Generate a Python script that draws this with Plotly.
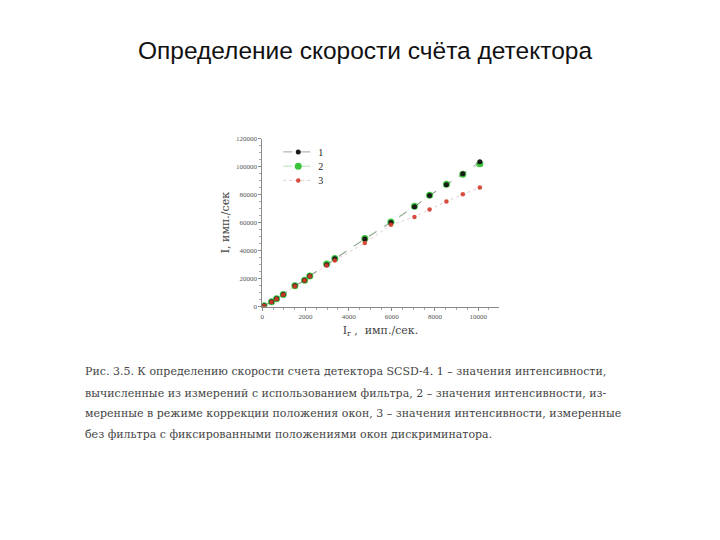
import plotly.graph_objects as go

# Data
x_vals = [80, 430, 660, 970, 1510, 1960, 2200, 2980, 3360, 4750, 5960, 7050, 7750, 8530, 9290, 10080]
series1 = [500, 3500, 5600, 8700, 14800, 18800, 21900, 29900, 34100, 48200, 60000, 71300, 79300, 87100, 94800, 103500]
series2 = [500, 3500, 5600, 8700, 14800, 18800, 21900, 30500, 34300, 48600, 60500, 71600, 79500, 87400, 94600, 102000]
series3 = [400, 3300, 5400, 8500, 14600, 18600, 21600, 29400, 33000, 45400, 58400, 64000, 69400, 75100, 80200, 85000]

x_ticks = [0, 2000, 4000, 6000, 8000, 10000]
y_ticks = [0, 20000, 40000, 60000, 80000, 100000, 120000]

title_text = "Определение скорости счёта детектора"
caption_lines = [
    "Рис. 3.5. К определению скорости счета детектора SCSD-4. 1 – значения интенсивности,",
    "вычисленные из измерений с использованием фильтра, 2 – значения интенсивности, из-",
    "меренные в режиме коррекции положения окон, 3 – значения интенсивности, измеренные",
    "без фильтра с фиксированными положениями окон дискриминатора.",
]

serif = "DejaVu Serif, Liberation Serif, serif"
OFF = 8  # page body margin


def px_x(x):
    return (x - OFF) / 720


def px_y(y):
    return 1 - (y - OFF) / 540


fig = go.Figure()
fig.add_trace(go.Scatter(
    x=x_vals, y=series2, name="2", mode="lines+markers", legend="legend2",
    line=dict(color="rgba(120,200,120,0.7)", width=0.8, dash="dash"),
    marker=dict(color="#3cc43c", size=7)))
fig.add_trace(go.Scatter(
    x=x_vals, y=series1, name="1", mode="lines+markers", legend="legend",
    line=dict(color="rgba(60,60,60,0.6)", width=0.8, dash="dash"),
    marker=dict(color="#1a1a1a", size=5)))
fig.add_trace(go.Scatter(
    x=x_vals, y=series3, name="3", mode="lines+markers", legend="legend3",
    line=dict(color="rgba(200,150,150,0.6)", width=0.8, dash="dot"),
    marker=dict(color="#d43a2a", size=4.5, opacity=0.9)))

axis_common = dict(
    showgrid=False, zeroline=False, showline=True, linecolor="#8a8a8a", linewidth=1,
    ticks="outside", ticklen=3, tickcolor="#8a8a8a",
    tickfont=dict(family="Liberation Serif, serif", size=7, color="#555"),
    minor=dict(ticks="outside", ticklen=2, tickcolor="#aaa"),
)


def legend_at(y):
    return dict(x=px_x(277), y=px_y(y), xanchor="left", yanchor="middle",
                bgcolor="rgba(0,0,0,0)", itemsizing="trace",
                font=dict(family="Liberation Serif, serif", size=10, color="#222"))


fig.update_layout(
    width=720, height=540, autosize=False,
    margin=dict(l=0, r=0, t=0, b=0),
    paper_bgcolor="white", plot_bgcolor="white",
    showlegend=True,
    legend=legend_at(150),
    legend2=legend_at(164.5),
    legend3=legend_at(179),
    xaxis=dict(domain=[px_x(261), px_x(498)], range=[0, 10950], tickvals=x_ticks,
               ticktext=[str(v) for v in x_ticks],
               title=dict(text="I<sub>r</sub> ,  имп./сек.", font=dict(family=serif, size=11, color="#444"), standoff=6),
               **axis_common),
    yaxis=dict(domain=[px_y(307), px_y(136.5)], range=[0, 120000], tickvals=y_ticks,
               ticktext=[str(v) for v in y_ticks],
               title=dict(text="I, имп./сек", font=dict(family=serif, size=11, color="#444"), standoff=4),
               **axis_common),
    title=dict(text=title_text, x=px_x(365), xanchor="center", y=px_y(50), yanchor="middle",
               font=dict(family="Liberation Sans, Arial, sans-serif", size=24.5, color="#111")),
)

caption_y = [373, 395, 416, 437]
for line, yy in zip(caption_lines, caption_y):
    fig.add_annotation(text=line, xref="paper", yref="paper",
                       x=px_x(81), y=px_y(yy), xanchor="left", yanchor="middle",
                       showarrow=False, font=dict(family=serif, size=11, color="#444"))

fig.write_html("out.html")
